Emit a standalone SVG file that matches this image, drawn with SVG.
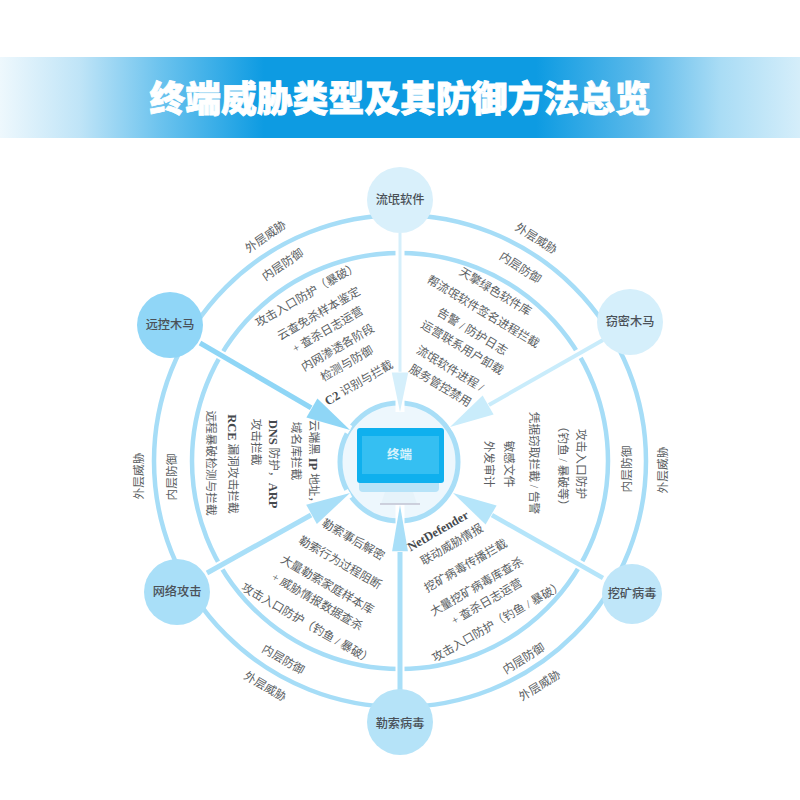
<svg xmlns="http://www.w3.org/2000/svg" width="800" height="800" viewBox="0 0 800 800">
<style>
text{font-family:"Liberation Serif","Noto Sans CJK SC",serif;text-anchor:middle;dominant-baseline:central;fill:#5a5e62}
.t{font-size:11.7px}
.a{font-size:11.7px}
.n{font-size:12.2px;fill:#4a5158;font-weight:500}
.b{font-weight:700;font-size:12.5px;fill:#45494d}
.title{font-family:"Noto Sans CJK SC","Noto Sans",sans-serif;font-size:35.8px;font-weight:900;fill:#fff;stroke:#fff;stroke-width:.8;dominant-baseline:auto}
.ring{fill:none;stroke:#a6ddf7;stroke-width:4.5}
.halo{stroke:#fff;stroke-width:9}
</style>
<defs>
<linearGradient id="band" x1="0" x2="1" y1="0" y2="0">
<stop offset="0" stop-color="#eef8fd"/><stop offset=".1" stop-color="#bfe4f7"/><stop offset=".2" stop-color="#6cc3ee"/><stop offset=".33" stop-color="#0d9be2"/><stop offset=".67" stop-color="#0d9be2"/><stop offset=".8" stop-color="#5bb9ea"/><stop offset=".9" stop-color="#a9dcf5"/><stop offset="1" stop-color="#d5eefa"/>
</linearGradient>
<path id="head" d="M0,0L-44,-11L-44,11Z" stroke="#fff" stroke-width="1.5" paint-order="stroke"/>
</defs>
<rect width="800" height="800" fill="#fff"/>
<rect id="header" x="0" y="57" width="800" height="81" fill="url(#band)"/>
<text class="title" x="400" y="112">终端威胁类型及其防御方法总览</text>

<g id="rings">
<circle class="ring" cx="400" cy="461" r="246"/>
<circle class="ring" cx="400" cy="461" r="208"/>
</g>
<g id="center-disc"><circle cx="399" cy="462" r="59" fill="#edf7fd" stroke="#a8def7" stroke-width="5"/></g>

<g id="connectors">
<g class="halo">
<line x1="400" y1="233" x2="400" y2="412"/>
<line x1="400" y1="690" x2="400" y2="505"/>
<line x1="200" y1="343" x2="350" y2="430"/>
<line x1="207" y1="573" x2="350" y2="493"/>
<line x1="603" y1="340" x2="450" y2="427"/>
<line x1="603" y1="578" x2="453" y2="493"/>
</g>
<line x1="400" y1="233" x2="400" y2="380" stroke="#d5effb" stroke-width="3"/>
<use href="#head" transform="translate(400 412) rotate(90) scale(.9 .75)" fill="#d5effb"/>
<line x1="400" y1="690" x2="400" y2="540" stroke="#a9dff8" stroke-width="5"/>
<use href="#head" transform="translate(400 505) rotate(-90) scale(1.05 .72)" fill="#a9dff8"/>
<line x1="200" y1="343" x2="320" y2="413" stroke="#8fd6f6" stroke-width="5"/>
<use href="#head" transform="translate(350 430) rotate(30)" fill="#8fd6f6"/>
<line x1="207" y1="573" x2="320" y2="510" stroke="#a9dff8" stroke-width="5"/>
<use href="#head" transform="translate(350 493) rotate(-29)" fill="#a9dff8"/>
<line x1="603" y1="340" x2="480" y2="410" stroke="#c9ecfb" stroke-width="4"/>
<use href="#head" transform="translate(450 427) rotate(150)" fill="#c9ecfb"/>
<line x1="603" y1="578" x2="483" y2="510" stroke="#b5e5fa" stroke-width="4.5"/>
<use href="#head" transform="translate(453 493) rotate(210)" fill="#b5e5fa"/>
</g>

<g id="node-terminal">
<path d="M359 482h80v6q0 4-4 4h-72q-4 0-4-4z" fill="#b7e3f8"/>
<path d="M385 492h28l4 12h-36z" fill="#e6f3fa"/>
<line x1="380" y1="504" x2="420" y2="504" stroke="#c2c3d2" stroke-width="1.5"/>
<rect x="357" y="428" width="87" height="55" rx="3" fill="#0fb0ee"/>
<rect x="362" y="436" width="77" height="38" fill="#35bff2"/>
<text x="399.500" y="455" style="font-size:12.5px;fill:#d5f2fc;font-weight:700">终端</text>
</g>
<g id="node-liumang"><circle cx="400" cy="200" r="33" fill="#d9f0fb"/><text class="n" x="400" y="200">流氓软件</text></g>
<g id="node-qiemi"><circle cx="630" cy="322" r="33" fill="#d5effb"/><text class="n" x="630" y="322">窃密木马</text></g>
<g id="node-wakuang"><circle cx="632" cy="594" r="30" fill="#bfe6f9"/><text class="n" x="632" y="594">挖矿病毒</text></g>
<g id="node-lesuo"><circle cx="400" cy="722" r="33" fill="#b5e3f8"/><text class="n" x="400" y="724">勒索病毒</text></g>
<g id="node-wangluo"><circle cx="177" cy="592" r="33" fill="#a9dff8"/><text class="n" x="177" y="592">网络攻击</text></g>
<g id="node-yuankong"><circle cx="170" cy="325" r="33" fill="#90d6f7"/><text class="n" x="170" y="325">远控木马</text></g>

<g id="ring-labels">
<text class="a" transform="translate(266 237) rotate(-35)">外层威胁</text>
<text class="a" transform="translate(283 265) rotate(-34)">内层防御</text>
<text class="a" transform="translate(536 239) rotate(32)">外层威胁</text>
<text class="a" transform="translate(520 268) rotate(33)">内层防御</text>
<text class="a" transform="translate(139 476) rotate(-90)">外层威胁</text>
<text class="a" transform="translate(172 477) rotate(-90)">内层防御</text>
<text class="a" transform="translate(627 469) rotate(-90)">内层防御</text>
<text class="a" transform="translate(663 470) rotate(-90)">外层威胁</text>
<text class="a" transform="translate(283 660) rotate(30)">内层防御</text>
<text class="a" transform="translate(265 687) rotate(30)">外层威胁</text>
<text class="a" transform="translate(524 659) rotate(-32)">内层防御</text>
<text class="a" transform="translate(540 686) rotate(-32)">外层威胁</text>
</g>

<g id="labels-remote">
<text class="t" transform="translate(307 295) rotate(-30)">攻击入口防护（暴破）</text>
<text class="t" transform="translate(319 314) rotate(-30)">云查免杀样本鉴定</text>
<text class="t" transform="translate(328 330) rotate(-30)">+ 查杀日志运营</text>
<text class="t" transform="translate(338 348) rotate(-30)">内网渗透各阶段</text>
<text class="t" transform="translate(347 364) rotate(-30)">检测与防御</text>
<text class="t" transform="translate(359 383) rotate(-30)"><tspan class="b">C2</tspan> 识别与拦截</text>
</g>
<g id="labels-rogue">
<text class="t" transform="translate(495 292) rotate(31)">天擎绿色软件库</text>
<text class="t" transform="translate(483 312) rotate(31)">帮流氓软件签名进程拦截</text>
<text class="t" transform="translate(472 332) rotate(31)">告警 / 防护日志</text>
<text class="t" transform="translate(462 348) rotate(31)">运营联系用户卸载</text>
<text class="t" transform="translate(450 369) rotate(31)">流氓软件进程 /</text>
<text class="t" transform="translate(440 386) rotate(31)">服务管控禁用</text>
</g>
<g id="labels-network">
<text class="t" transform="translate(313 464) rotate(90)">云端黑 <tspan class="b">IP</tspan> 地址，</text>
<text class="t" transform="translate(295 451) rotate(90)">域名库拦截</text>
<text class="t" transform="translate(273 464) rotate(90)"><tspan class="b">DNS</tspan> 防护，<tspan class="b">ARP</tspan></text>
<text class="t" transform="translate(255 442) rotate(90)">攻击拦截</text>
<text class="t" transform="translate(232 464) rotate(90)"><tspan class="b">RCE</tspan> 漏洞攻击拦截</text>
<text class="t" transform="translate(210 463) rotate(90)">远程暴破检测与拦截</text>
</g>
<g id="labels-steal">
<text class="t" transform="translate(580 464) rotate(90)">攻击入口防护</text>
<text class="t" transform="translate(562 466) rotate(90)">（钓鱼 / 暴破等）</text>
<text class="t" transform="translate(533 463) rotate(90)">凭据窃取拦截 / 告警</text>
<text class="t" transform="translate(508 464) rotate(90)">敏感文件</text>
<text class="t" transform="translate(488 464) rotate(90)">外发审计</text>
</g>
<g id="labels-ransom">
<text class="t" transform="translate(353 540) rotate(30)">勒索事后解密</text>
<text class="t" transform="translate(340 563) rotate(30)">勒索行为过程阻断</text>
<text class="t" transform="translate(327 585) rotate(30)">大量勒索家庭样本库</text>
<text class="t" transform="translate(317 602) rotate(30)">+ 威胁情报数据查杀</text>
<text class="t" transform="translate(307 624) rotate(30)">攻击入口防护（钓鱼 / 暴破）</text>
</g>
<g id="labels-mining">
<text class="t b" transform="translate(438 531) rotate(-30)">NetDefender</text>
<text class="t" transform="translate(452 545) rotate(-30)">联动威胁情报</text>
<text class="t" transform="translate(466 566) rotate(-30)">挖矿病毒传播拦截</text>
<text class="t" transform="translate(477 587) rotate(-30)">大量挖矿病毒库查杀</text>
<text class="t" transform="translate(487 602) rotate(-30)">+ 查杀日志运营</text>
<text class="t" transform="translate(498 622) rotate(-30)">攻击入口防护（钓鱼 / 暴破）</text>
</g>
</svg>
